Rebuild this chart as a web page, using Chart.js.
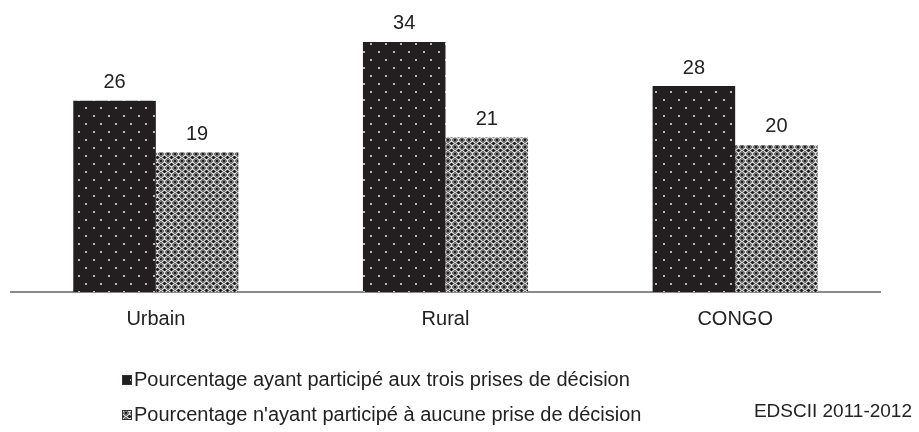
<!DOCTYPE html>
<html>
<head>
<meta charset="utf-8">
<script src="https://cdn.jsdelivr.net/npm/chart.js@4/dist/chart.umd.min.js"></script>
<style>
  html, body { margin: 0; padding: 0; background: #fff; }
  #wrap { width: 919px; height: 432px; position: relative; }
</style>
</head>
<body>
<div id="wrap"><canvas id="chart" width="919" height="432"></canvas></div>
<script>
const categories = ["Urbain", "Rural", "CONGO"];
const seriesNames = [
    "Pourcentage ayant participé aux trois prises de décision",
    "Pourcentage n'ayant participé à aucune prise de décision"
];
const threeDecisions = [26, 34, 28];
const noDecision = [19, 21, 20];
const sourceNote = "EDSCII 2011-2012";

const font = "'Liberation Sans', Arial, sans-serif";

// dotted black fill
function dotPattern() {
    let c = document.createElement("canvas");
    c.width = 15; c.height = 16;
    let g = c.getContext("2d");
    g.fillStyle = "#231f20";
    g.fillRect(0, 0, 15, 16);
    g.fillStyle = "#b8b8b8";
    g.fillRect(3, 3, 2, 2);
    g.fillRect(10, 11, 2, 2);
    return g.createPattern(c, "repeat");
}

// grey lattice fill
function hatchPattern() {
    let c = document.createElement("canvas");
    c.width = 7; c.height = 7;
    let g = c.getContext("2d");
    g.fillStyle = "#767676";
    g.fillRect(0, 0, 7, 7);
    g.fillStyle = "#d8d8d8";
    g.fillRect(3, 0, 1, 1); g.fillRect(2, 1, 3, 1); g.fillRect(1, 2, 1, 1); g.fillRect(5, 2, 1, 1);
    g.fillRect(0, 3, 1, 1); g.fillRect(6, 3, 1, 1);
    g.fillRect(1, 4, 1, 1); g.fillRect(5, 4, 1, 1); g.fillRect(2, 5, 3, 1); g.fillRect(3, 6, 1, 1);
    g.fillStyle = "#1e1e1e";
    g.fillRect(3, 2, 1, 3); g.fillRect(2, 3, 3, 1);
    g.fillRect(0, 0, 1, 1); g.fillRect(6, 6, 1, 1); g.fillRect(0, 6, 1, 1); g.fillRect(6, 0, 1, 1);
    return g.createPattern(c, "repeat");
}

const fills = [dotPattern(), hatchPattern()];

const valueLabels = {
    id: "valueLabels",
    afterDatasetsDraw(chart) {
        let ctx = chart.ctx;
        ctx.save();
        ctx.font = "20px " + font;
        ctx.fillStyle = "#222";
        ctx.textAlign = "center";
        ctx.textBaseline = "middle";
        chart.data.datasets.forEach((ds, i) => {
            chart.getDatasetMeta(i).data.forEach((bar, j) => {
                ctx.fillText(ds.data[j], bar.x, bar.y - 18);
            });
        });
        ctx.restore();
    }
};

const sideLegend = {
    id: "sideLegend",
    afterDraw(chart) {
        let ctx = chart.ctx;
        ctx.save();
        ctx.font = "20px " + font;
        ctx.textBaseline = "middle";
        let rows = [380, 415];
        seriesNames.forEach((name, i) => {
            ctx.fillStyle = fills[i];
            ctx.fillRect(122, rows[i] - 5, 10, 10);
            ctx.strokeStyle = "#333";
            ctx.lineWidth = 1;
            ctx.strokeRect(122.5, rows[i] - 4.5, 9, 9);
            ctx.fillStyle = "#222";
            ctx.fillText(name, 134, rows[i]);
        });
        ctx.font = "19px " + font;
        ctx.textAlign = "right";
        ctx.fillText(sourceNote, 912, 412);
        ctx.restore();
    }
};

new Chart(document.getElementById("chart"), {
    type: "bar",
    data: {
        labels: categories,
        datasets: [
            { label: seriesNames[0], data: threeDecisions, backgroundColor: fills[0] },
            { label: seriesNames[1], data: noDecision, backgroundColor: fills[1] }
        ]
    },
    options: {
        responsive: false,
        animation: false,
        layout: { padding: { left: 11, right: 39, top: 0, bottom: 0 } },
        datasets: { bar: { categoryPercentage: 0.57, barPercentage: 1 } },
        plugins: { legend: { display: false }, tooltip: { enabled: false } },
        scales: {
            x: {
                grid: { display: false, drawTicks: false },
                border: { display: true, color: "#8a8a8a", width: 2 },
                ticks: { color: "#222", font: { family: font, size: 20 }, padding: 15 },
                afterFit(scale) { scale.height = 140; }
            },
            y: {
                display: false,
                min: 0,
                max: 39.7
            }
        }
    },
    plugins: [valueLabels, sideLegend]
});
</script>
</body>
</html>
